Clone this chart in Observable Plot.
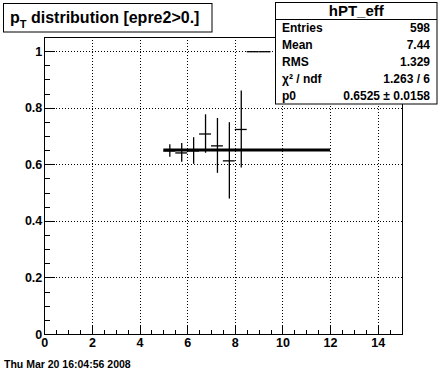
<!DOCTYPE html>
<html>
<head>
<meta charset="utf-8">
<script src="https://cdn.jsdelivr.net/npm/d3@7"></script>
<script src="https://cdn.jsdelivr.net/npm/@observablehq/plot@0.6"></script>
<style>
  html, body { margin: 0; padding: 0; background: white; }
  #chart svg { display: block; }
</style>
</head>
<body>
<div id="chart"></div>
<script>
// ---- data ----
const binCenters    = [5.25, 5.75, 6.25, 6.75, 7.25, 7.75, 8.25, 8.75, 9.25];
const binHalfWidths = [0.25, 0.25, 0.25, 0.25, 0.25, 0.25, 0.25, 0.25, 0.25];
const effValues     = [0.649, 0.642, 0.649, 0.709, 0.667, 0.614, 0.725, 1.0, 1.0];
const effErrors     = [0.022, 0.033, 0.047, 0.068, 0.097, 0.135, 0.136, 0, 0];
const fitRange = [5, 12];
const fitP0 = 0.6525;

const xMajorTicks = [0, 2, 4, 6, 8, 10, 12, 14];
const xMinorTicks = [0.5, 1, 1.5, 2.5, 3, 3.5, 4.5, 5, 5.5, 6.5, 7, 7.5, 8.5, 9, 9.5, 10.5, 11, 11.5, 12.5, 13, 13.5, 14.5];
const xGridTicks  = [2, 4, 6, 8, 10, 12, 14];
const yMajorTicks = [0, 0.2, 0.4, 0.6, 0.8, 1];
const yMinorTicks = [0.05, 0.1, 0.15, 0.25, 0.3, 0.35, 0.45, 0.5, 0.55, 0.65, 0.7, 0.75, 0.85, 0.9, 0.95];
const yGridTicks  = [0.2, 0.4, 0.6, 0.8, 1];
const yTickLabels = ["0", "0.2", "0.4", "0.6", "0.8", "1"];

const histTitle = "hPT_eff";
const statLabels = ["Entries", "Mean", "RMS", "χ² / ndf", "p0"];
const statValues = ["598", "7.44", "1.329", "1.263 / 6", "0.6525 ± 0.0158"];
const dateText = "Thu Mar 20 16:04:56 2008";

// ---- layout ----
const W = 446, H = 372;
const mL = 44.3, mR = 44.5, mT = 36.5, mB = 38;
const frameW = W - mL - mR, frameH = H - mT - mB;

const bins = binCenters.map((c, i) => ({
  x: c, x1: c - binHalfWidths[i], x2: c + binHalfWidths[i],
  y: effValues[i], y1: effValues[i] - effErrors[i], y2: effValues[i] + effErrors[i]
}));

const font = "'Liberation Sans', Arial, Helvetica, sans-serif";
const crisp = { stroke: "black", strokeOpacity: 1, shapeRendering: "crispEdges" };

const plot = Plot.plot({
  width: W, height: H,
  marginLeft: mL, marginRight: mR, marginTop: mT, marginBottom: mB,
  style: { fontFamily: font, fontSize: "12.5px", fontWeight: "bold", background: "white", color: "black" },
  x: { domain: [0, 15] },
  y: { domain: [0, 1.052] },
  marks: [
    Plot.gridX(xGridTicks, { ...crisp, strokeDasharray: "1,2" }),
    Plot.gridY(yGridTicks, { ...crisp, strokeDasharray: "1,2" }),
    Plot.ruleX(bins, { x: "x", y1: "y1", y2: "y2", stroke: "black", strokeWidth: 1.3 }),
    Plot.ruleY(bins, { y: "y", x1: "x1", x2: "x2", stroke: "black", strokeWidth: 1.3 }),
    Plot.ruleY([fitP0], { y: d => d, x1: fitRange[0], x2: fitRange[1], stroke: "black", strokeWidth: 3 }),
    Plot.frame({ stroke: "black", shapeRendering: "crispEdges" }),
    Plot.tickX(xMajorTicks, { ...crisp, x: d => d, insetTop: frameH - 8.9 }),
    Plot.tickX(xMinorTicks, { ...crisp, x: d => d, insetTop: frameH - 4.5 }),
    Plot.tickY(yMajorTicks, { ...crisp, y: d => d, insetRight: frameW - 10.7 }),
    Plot.tickY(yMinorTicks, { ...crisp, y: d => d, insetRight: frameW - 5.4 }),
    Plot.axisX(xMajorTicks, { tickSize: 0, tickPadding: 4, label: null, fill: "black", tickFormat: d => String(d) }),
    Plot.axisY(yMajorTicks, { tickSize: 0, tickPadding: 2.5, label: null, fill: "black", tickFormat: (d, i) => yTickLabels[i] })
  ]
});

document.getElementById("chart").appendChild(plot);

// ---- annotations: title box, stats box, date ----
const svg = d3.select(plot);

const tg = svg.append("g").attr("font-family", font).attr("font-weight", "bold").attr("text-anchor", "start");
tg.append("rect").attr("x", 3.5).attr("y", 3.5).attr("width", 208.5).attr("height", 28.5)
  .attr("fill", "white").attr("stroke", "black");
const tt = tg.append("text").attr("x", 10).attr("y", 23).attr("font-size", 16).attr("fill", "black")
  .attr("text-anchor", "start");
tt.append("tspan").text("p");
tt.append("tspan").attr("font-size", 11).attr("dy", 5).text("T");
tt.append("tspan").attr("dy", -5).text(" distribution [epre2>0.]");

const sg = svg.append("g").attr("font-family", font).attr("font-weight", "bold").attr("fill", "black")
  .attr("text-anchor", "start");
const bx = 275.5, by = 2.5, bw = 161.5, bh = 101.5;
sg.append("rect").attr("x", bx).attr("y", by).attr("width", bw).attr("height", bh)
  .attr("fill", "white").attr("stroke", "black");
sg.append("line").attr("x1", bx).attr("x2", bx + bw).attr("y1", 19.5).attr("y2", 19.5).attr("stroke", "black");
sg.append("text").attr("x", bx + bw / 2).attr("y", 15.5).attr("text-anchor", "middle")
  .attr("font-size", 15).text(histTitle);
const rowH = (by + bh - 19.5) / statLabels.length;
statLabels.forEach((lab, i) => {
  const yc = 19.5 + rowH * (i + 0.5);
  sg.append("text").attr("x", 282).attr("y", yc).attr("dy", "0.36em").attr("font-size", 12)
    .attr("text-anchor", "start").text(lab);
  sg.append("text").attr("x", 430).attr("y", yc).attr("dy", "0.36em").attr("font-size", 12)
    .attr("text-anchor", "end").text(statValues[i]);
});

svg.append("text").attr("x", 4).attr("y", 368).attr("font-family", font).attr("font-weight", "bold")
  .attr("font-size", 10.5).attr("fill", "black").attr("text-anchor", "start").text(dateText);
</script>
</body>
</html>
